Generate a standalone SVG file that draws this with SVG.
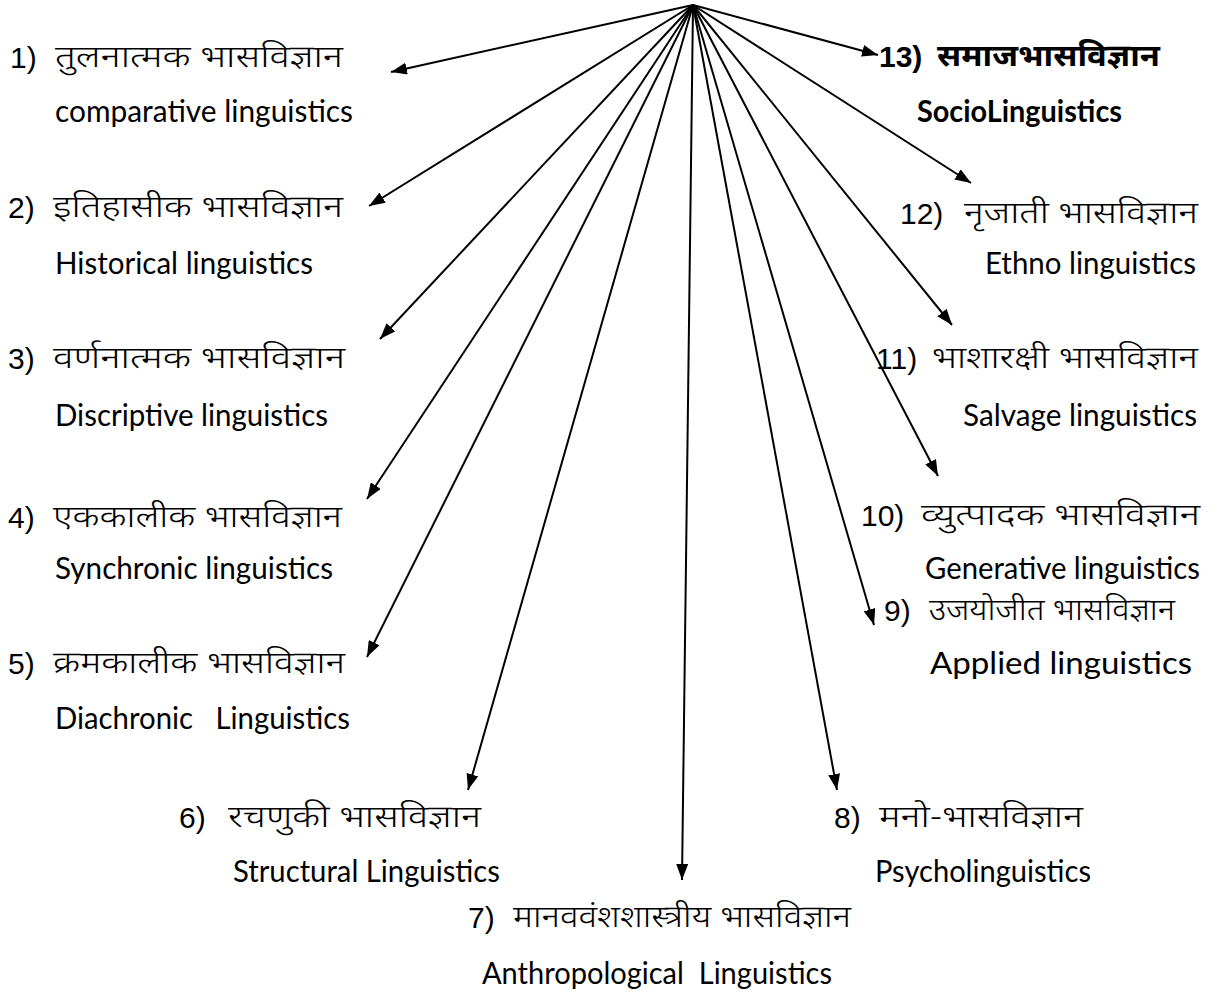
<svg xmlns="http://www.w3.org/2000/svg" width="1231" height="996" viewBox="0 0 1231 996">
<style>
.nm{font-family:'Liberation Sans',Arial,sans-serif;font-size:30px;fill:#000}
.hi{font-family:'Noto Sans Devanagari','Noto Sans',sans-serif;font-size:31px;font-weight:350;fill:#000}
.en{font-family:Lato,'Open Sans',sans-serif;font-size:30px;fill:#000;white-space:pre}
.b{font-weight:bold}
.c{stroke:#000;stroke-width:2;fill:none}
</style>
<defs>
<marker id="ah" markerUnits="userSpaceOnUse" markerWidth="16" markerHeight="12" refX="16" refY="6" orient="auto">
<path d="M0,0 L16,6 L0,12 Z" fill="#000"/>
</marker>
</defs>
<rect width="1231" height="996" fill="#fff"/>
<g id="connectors">
<line class="c" x1="693" y1="5" x2="391" y2="72" marker-end="url(#ah)"/>
<line class="c" x1="693" y1="5" x2="878" y2="55" marker-end="url(#ah)"/>
<line class="c" x1="693" y1="5" x2="369" y2="206" marker-end="url(#ah)"/>
<line class="c" x1="693" y1="5" x2="971" y2="183" marker-end="url(#ah)"/>
<line class="c" x1="693" y1="5" x2="380" y2="339" marker-end="url(#ah)"/>
<line class="c" x1="693" y1="5" x2="952" y2="325" marker-end="url(#ah)"/>
<line class="c" x1="693" y1="5" x2="367" y2="499" marker-end="url(#ah)"/>
<line class="c" x1="693" y1="5" x2="938" y2="476" marker-end="url(#ah)"/>
<line class="c" x1="693" y1="5" x2="367" y2="657" marker-end="url(#ah)"/>
<line class="c" x1="693" y1="5" x2="874" y2="625" marker-end="url(#ah)"/>
<line class="c" x1="693" y1="5" x2="468" y2="790" marker-end="url(#ah)"/>
<line class="c" x1="693" y1="5" x2="837" y2="790" marker-end="url(#ah)"/>
<line class="c" x1="693" y1="5" x2="682" y2="880" marker-end="url(#ah)"/>
</g>
<g id="n1"><text class="nm" x="10" y="68">1)</text><text class="hi" x="55" y="67" textLength="288" lengthAdjust="spacingAndGlyphs">तुलनात्मक भासविज्ञान</text><text class="en" x="55" y="122" textLength="298" lengthAdjust="spacingAndGlyphs">comparative linguistics</text></g>
<g id="n2"><text class="nm" x="8" y="218">2)</text><text class="hi" x="53" y="217" textLength="290" lengthAdjust="spacingAndGlyphs">इतिहासीक भासविज्ञान</text><text class="en" x="55" y="274" textLength="258" lengthAdjust="spacingAndGlyphs">Historical linguistics</text></g>
<g id="n3"><text class="nm" x="8" y="369">3)</text><text class="hi" x="53" y="368" textLength="292" lengthAdjust="spacingAndGlyphs">वर्णनात्मक भासविज्ञान</text><text class="en" x="55" y="426" textLength="273" lengthAdjust="spacingAndGlyphs">Discriptive linguistics</text></g>
<g id="n4"><text class="nm" x="8" y="528">4)</text><text class="hi" x="53" y="527" textLength="289" lengthAdjust="spacingAndGlyphs">एककालीक भासविज्ञान</text><text class="en" x="55" y="579" textLength="278" lengthAdjust="spacingAndGlyphs">Synchronic linguistics</text></g>
<g id="n5"><text class="nm" x="8" y="674">5)</text><text class="hi" x="53" y="673" textLength="292" lengthAdjust="spacingAndGlyphs">क्रमकालीक भासविज्ञान</text><text class="en" x="55" y="729" textLength="295" lengthAdjust="spacingAndGlyphs">Diachronic   Linguistics</text></g>
<g id="n6"><text class="nm" x="179" y="828">6)</text><text class="hi" x="228" y="827" textLength="253" lengthAdjust="spacingAndGlyphs">रचणुकी भासविज्ञान</text><text class="en" x="233" y="882" textLength="267" lengthAdjust="spacingAndGlyphs">Structural Linguistics</text></g>
<g id="n7"><text class="nm" x="468" y="928">7)</text><text class="hi" x="513" y="927" textLength="338" lengthAdjust="spacingAndGlyphs">मानववंशशास्त्रीय भासविज्ञान</text><text class="en" x="482" y="984" textLength="350" lengthAdjust="spacingAndGlyphs">Anthropological  Linguistics</text></g>
<g id="n8"><text class="nm" x="834" y="828">8)</text><text class="hi" x="879" y="827" textLength="204" lengthAdjust="spacingAndGlyphs">मनो-भासविज्ञान</text><text class="en" x="875" y="882" textLength="216" lengthAdjust="spacingAndGlyphs">Psycholinguistics</text></g>
<g id="n9"><text class="nm" x="884" y="621">9)</text><text class="hi" x="929" y="620" textLength="246" lengthAdjust="spacingAndGlyphs">उजयोजीत भासविज्ञान</text><text class="en" x="930" y="674" textLength="262" lengthAdjust="spacingAndGlyphs">Applied linguistics</text></g>
<g id="n10"><text class="nm" x="861" y="526">10)</text><text class="hi" x="921" y="525" textLength="279" lengthAdjust="spacingAndGlyphs">व्युत्पादक भासविज्ञान</text><text class="en" x="925" y="579" textLength="275" lengthAdjust="spacingAndGlyphs">Generative linguistics</text></g>
<g id="n11"><text class="nm" x="876" y="369">11)</text><text class="hi" x="932" y="368" textLength="266" lengthAdjust="spacingAndGlyphs">भाशारक्षी भासविज्ञान</text><text class="en" x="963" y="426" textLength="234" lengthAdjust="spacingAndGlyphs">Salvage linguistics</text></g>
<g id="n12"><text class="nm" x="900" y="224">12)</text><text class="hi" x="964" y="223" textLength="234" lengthAdjust="spacingAndGlyphs">नृजाती भासविज्ञान</text><text class="en" x="985" y="274" textLength="211" lengthAdjust="spacingAndGlyphs">Ethno linguistics</text></g>
<g id="n13"><text class="nm b" x="879" y="67">13)</text><text class="hi b" x="937" y="66" textLength="223" lengthAdjust="spacingAndGlyphs">समाजभासविज्ञान</text><text class="en b" x="917" y="122" textLength="205" lengthAdjust="spacingAndGlyphs">SocioLinguistics</text></g>
</svg>
